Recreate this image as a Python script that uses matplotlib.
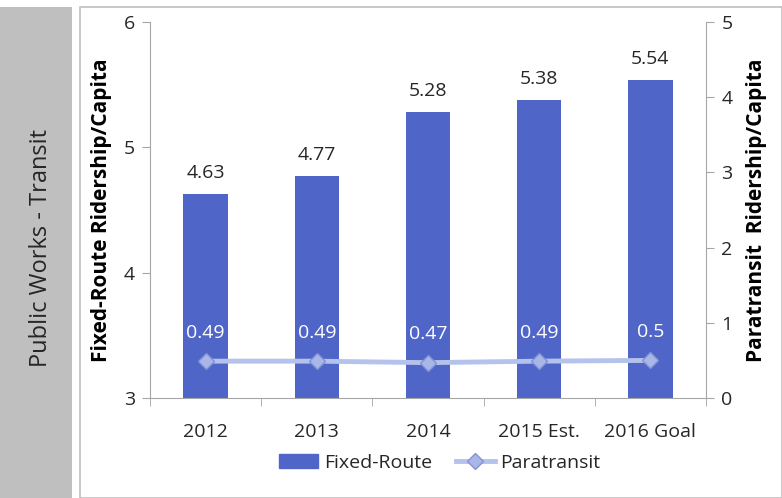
import matplotlib
matplotlib.use("Agg")
import matplotlib.pyplot as plt
from matplotlib.patches import Rectangle
from matplotlib.lines import Line2D

plt.rcParams["font.family"] = ["Open Sans", "DejaVu Sans"]

# Ridership per capita by year
years = ["2012", "2013", "2014", "2015 Est.", "2016 Goal"]
fixed_route = [4.63, 4.77, 5.28, 5.38, 5.54]
paratransit = [0.49, 0.49, 0.47, 0.49, 0.5]
para_labels = ["0.49", "0.49", "0.47", "0.49", "0.5"]

BAR = "#4F66C8"
LINE = "#B4C2EC"
MARK_FACE = "#A9B7E8"
MARK_EDGE = "#8392D2"
AXIS = "#A6A6A6"
TXT = "#262626"
FS = 14

W, H = 782, 498
fig = plt.figure(figsize=(W / 100, H / 100), dpi=100)
fig.patch.set_facecolor("white")

def px(x0, y0, x1, y1):
    # pixel box (top-left origin) -> figure fraction rect
    return [x0 / W, 1 - y1 / H, (x1 - x0) / W, (y1 - y0) / H]

# side panel with section title
fig.add_artist(Rectangle((0, 0), 72 / W, 1 - 7 / H, transform=fig.transFigure,
                         facecolor="#BFBFBF", edgecolor="none"))
fig.text(41 / W, 1 - 248 / H, "Public Works - Transit", rotation=90,
         ha="center", va="center", fontsize=17, color=TXT)

# chart frame
fig.add_artist(Rectangle((80 / W, 0.5 / H), (W - 80.5) / W, 1 - 8 / H,
                         transform=fig.transFigure, facecolor="none",
                         edgecolor="#BFBFBF", linewidth=1.2))

ax = fig.add_axes(px(150, 22, 706, 398))
x = list(range(len(years)))
ax.bar(x, fixed_route, width=0.4, color=BAR, zorder=2)
ax.set_xlim(-0.5, len(years) - 0.5)
ax.set_ylim(3, 6)
ax.set_yticks([3, 4, 5, 6])
for xi, v in zip(x, fixed_route):
    ax.annotate(f"{v:.2f}", (xi, v), xytext=(0, 11.5), textcoords="offset points",
                ha="center", va="baseline", fontsize=FS, color=TXT)

ax.set_xticks(x)
ax.set_xticklabels(years)
ax.set_xticks([i - 0.5 for i in range(len(years) + 1)], minor=True)
ax.tick_params(axis="x", which="major", length=0, pad=18, labelsize=FS, colors=TXT)
ax.tick_params(axis="x", which="minor", length=6, color=AXIS, direction="out")
ax.tick_params(axis="y", length=6, color=AXIS, labelsize=FS, labelcolor=TXT, pad=5)
for s in ["top", "right"]:
    ax.spines[s].set_visible(False)
for s in ["left", "bottom"]:
    ax.spines[s].set_color(AXIS)
ax.set_ylabel("Fixed-Route Ridership/Capita", fontsize=15, fontweight="bold",
              color="black", labelpad=8)

ax2 = ax.twinx()
ax2.set_ylim(0, 5)
ax2.set_yticks(range(6))
ax2.plot(x, paratransit, color=LINE, linewidth=3.5, marker="D", markersize=8,
         markerfacecolor=MARK_FACE, markeredgecolor=MARK_EDGE, zorder=3)
for xi, v, lab in zip(x, paratransit, para_labels):
    ax2.annotate(lab, (xi, v), xytext=(0, 17), textcoords="offset points",
                 ha="center", va="baseline", fontsize=FS, color="white")
for s in ["top", "left", "bottom"]:
    ax2.spines[s].set_visible(False)
ax2.spines["right"].set_color(AXIS)
ax2.tick_params(axis="y", length=6, color=AXIS, labelsize=FS, labelcolor=TXT, pad=5)
ax2.set_ylabel("Paratransit  Ridership/Capita", fontsize=15, fontweight="bold",
               color="black", labelpad=10)

handles = [Rectangle((0, 0), 1, 1, color=BAR),
           Line2D([], [], color=LINE, linewidth=3.5, marker="D", markersize=8,
                  markerfacecolor=MARK_FACE, markeredgecolor=MARK_EDGE)]
fig.legend(handles, ["Fixed-Route", "Paratransit"], loc="center",
           bbox_to_anchor=(440 / W, 1 - 463 / H), ncol=2, frameon=False,
           fontsize=FS, handlelength=2.0, columnspacing=1.2, handletextpad=0.3,
           labelcolor=TXT)

fig.savefig("out.png", dpi=100)
